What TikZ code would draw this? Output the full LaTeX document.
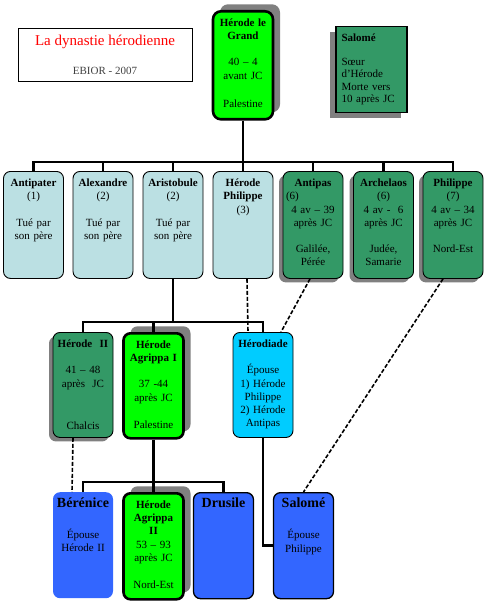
\documentclass[tikz,border=0pt]{standalone}
\usepackage{fontspec}
\setmainfont{Liberation Serif}
\usepackage{tikz}
\usetikzlibrary{shadows}
\definecolor{paleblue}{HTML}{BBE0E3}
\definecolor{rulergreen}{HTML}{339966}
\definecolor{kinggreen}{HTML}{00FF00}
\definecolor{queencyan}{HTML}{00CCFF}
\definecolor{childblue}{HTML}{3366FF}
\definecolor{shadowgray}{HTML}{808080}

\begin{document}
\begin{tikzpicture}[x=1pt, y=-1pt, font=\fontsize{11}{13.3}\selectfont]
\tikzstyle{fam}=[rounded corners=7pt, anchor=north, align=center, text width=54pt, inner sep=3pt, text height=12pt]
\tikzstyle{son}=[fam, draw, fill=paleblue, line width=0.9pt]
\tikzstyle{ruler}=[fam, draw, fill=rulergreen, line width=0.9pt, drop shadow={shadow xshift=-4pt, shadow yshift=-4pt, fill=shadowgray, draw=none, opacity=1}]
\tikzstyle{king}=[fam, draw, fill=kinggreen, line width=2.6pt, drop shadow={shadow xshift=7pt, shadow yshift=7pt, fill=shadowgray, draw=none, opacity=1}]
\tikzstyle{spouse}=[fam, fill=childblue]
\tikzstyle{branch}=[line width=2.8pt]
\tikzstyle{kin}=[dash pattern=on 4pt off 2pt, line width=1.6pt]
\useasboundingbox (0,0) rectangle (489,604);

% title and top row
\node[draw, line width=0.9pt, minimum width=174pt, minimum height=53pt, align=center] (title) at (105,54.5) {{\fontsize{15}{17}\selectfont\color{red}La dynastie hérodienne}\\[16pt]{\color{black!75}EBIOR - 2007}};
\node[king, rounded corners=8pt, text depth=90pt] (grand) at (243,10) {\textbf{Hérode le\\Grand}\\[13pt]40 – 4\\avant JC\\[15pt]Palestine};
\node[draw, fill=rulergreen, line width=1.2pt, anchor=north, align=left, text width=60pt, inner xsep=5.5pt, inner ysep=3pt, text height=12pt, text depth=68pt, font=\fontsize{11}{12.5}\selectfont, drop shadow={shadow xshift=-6pt, shadow yshift=-5pt, fill=shadowgray, draw=none, opacity=1}] (salomesister) at (371.5,26) {\textbf{Salomé}\\[11pt]Sœur\\d'Hérode\\Morte vers\\10 après JC};

% sons of Herod the Great
\node[son, text depth=89pt] (antipater) at (33.5,171) {\textbf{Antipater}\\(1)\\[13pt]Tué par\\son père};
\node[son, text depth=89pt] (alexandre) at (103,171) {\textbf{Alexandre}\\(2)\\[13pt]Tué par\\son père};
\node[son, text depth=89pt] (aristobule) at (173,171) {\textbf{Aristobule}\\(2)\\[13pt]Tué par\\son père};
\node[son, text depth=89pt] (hphilippe) at (243,171) {\textbf{Hérode\\Philippe}\\(3)};
\node[ruler, text depth=89pt] (antipas) at (313,171) {\textbf{Antipas}\\(6)\hfill\mbox{}\\4 av – 39\\après JC\\[13pt]Galilée,\\Pérée};
\node[ruler, text depth=89pt] (archelaos) at (383.5,171) {\textbf{Archelaos}\\(6)\\4 av -\ \ 6\\après JC\\[13pt]Judée,\\Samarie};
\node[ruler, text depth=89pt] (philippe) at (453,171) {\textbf{Philippe}\\(7)\\4 av – 34\\après JC\\[13pt]Nord-Est};

% grandchildren
\node[ruler, text depth=87pt] (herodeii) at (83,332) {\textbf{Hérode\ \ II}\\[13pt]41 – 48\\après\ \ JC\\[29pt]Chalcis};
\node[king, text depth=87pt] (agrippai) at (153.5,332) {\textbf{Hérode\\Agrippa I}\\[13pt]37 -44\\après JC\\[14pt]Palestine};
\node[son, fill=queencyan, text depth=87pt] (herodiade) at (263,332) {\textbf{Hérodiade}\\[13pt]Épouse\\1) Hérode\\Philippe\\2) Hérode\\Antipas};

% great-grandchildren
\node[spouse, text depth=88pt] (berenice) at (83,492) {{\fontsize{14}{16}\selectfont\textbf{Bérénice}}\\[18pt]Épouse\\Hérode II};
\node[king, text depth=88pt] (agrippaii) at (153.5,492) {\textbf{Hérode\\Agrippa\\II}\\53 – 93\\après JC\\[14pt]Nord-Est};
\node[spouse, draw, line width=1.3pt, text depth=88pt] (drusile) at (223.5,492) {{\fontsize{14}{16}\selectfont\textbf{Drusile}}};
\node[spouse, draw, line width=1.3pt, text depth=88pt] (salome) at (303.5,492) {{\fontsize{14}{16}\selectfont\textbf{Salomé}}\\[18pt]Épouse\\Philippe};

% descent lines
\coordinate (bus1) at (243,162);
\coordinate (bus2) at (173,322);
\coordinate (bus3) at (153.5,482);
\draw[branch] (grand.south) -- (bus1);
\draw[branch] (antipater.north) |- (bus1) -| (philippe.north);
\foreach \n in {alexandre,aristobule,hphilippe,antipas,archelaos}
  \draw[branch] (\n.north) -- (\n.north |- bus1);
\draw[branch] (aristobule.south) -- (bus2);
\draw[branch] (herodeii.north) |- (bus2) -| (herodiade.north);
\draw[branch] (agrippai.north) -- (agrippai.north |- bus2);
\draw[branch] (agrippai.south) -- (bus3);
\draw[branch] (berenice.north) |- (bus3) -| (drusile.north);
\draw[branch] (agrippaii.north) -- (agrippaii.north |- bus3);
\draw[branch] (herodiade.south) |- (salome.west);

% marriages
\draw[kin] ([xshift=4pt]hphilippe.south) -- ([xshift=-15pt]herodiade.north);
\draw[kin] ([xshift=-3pt]antipas.south) -- ([xshift=18pt]herodiade.north);
\draw[kin] ([xshift=-10pt]herodeii.south) -- ([xshift=-11pt]berenice.north);
\draw[kin] ([xshift=-10pt]philippe.south) -- (salome.north);
\end{tikzpicture}
\end{document}
